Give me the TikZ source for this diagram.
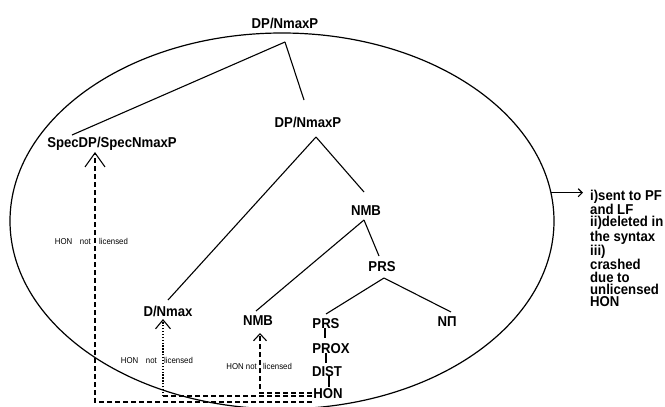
\documentclass[tikz,border=0pt]{standalone}
\usepackage{fontspec}
\setmainfont{Liberation Sans}[FakeStretch=0.92]
\usetikzlibrary{shapes.geometric,arrows.meta,calc}
\begin{document}
\begin{tikzpicture}[x=1pt,y=-1pt,
  lab/.style={font=\fontsize{14.3}{14.3}\selectfont\bfseries, inner sep=1pt, anchor=base},
  small/.style={font=\fontsize{8.5}{9}\selectfont, inner sep=0pt},
  tree/.style={line width=1.1pt},
  dsh/.style={line width=1.1pt, dash pattern=on 5pt off 3pt},
  dtt/.style={line width=1.1pt, dash pattern=on 1.3pt off 1.6pt},
  bigtip/.style={-{Straight Barb[length=14pt,width=20pt,line width=1.1pt]}},
  midtip/.style={-{Straight Barb[length=9pt,width=15pt,line width=1.1pt]}},
  smalltip/.style={-{Straight Barb[length=7pt,width=13pt,line width=1.1pt]}},
  notetip/.style={-{Straight Barb[length=4pt,width=8pt,line width=1.1pt]}}]
\useasboundingbox (0,0) rectangle (665,407);

\node[draw, ellipse, minimum width=544pt, minimum height=376pt, inner sep=0pt, outer sep=0pt, line width=1.2pt] (ell) at (282,221) {};

% tree labels
\node[lab] (top)  at (285,28)  {DP/NmaxP};
\node[lab] (dp2)  at (308,127) {DP/NmaxP};
\node[lab] (spec) at (112,147) {SpecDP/SpecNmaxP};
\node[lab] (nmb1) at (366,215) {NMB};
\node[lab] (prs1) at (382,271) {PRS};
\node[lab] (dn)   at (168,316) {D/Nmax};
\node[lab] (nmb2) at (258,325) {NMB};
\node[lab] (prs2) at (326,328) {PRS};
\node[lab] (npi)  at (447,326) {NΠ};
\node[lab] (prox) at (331,353) {PROX};
\node[lab] (dist) at (327,376) {DIST};
\node[lab] (hon)  at (328,398) {HON};

% notes
\node[font=\fontsize{14.3}{12.1}\selectfont\bfseries, align=left, anchor=north west, inner sep=0pt] (notes) at (590,190)
  {i)sent to PF\\and LF\\ii)deleted in\\the syntax\\iii)\\crashed\\due to\\unlicensed\\HON};

% small labels
\node[small, anchor=base east] (s1a) at (91,244)  {HON\hspace{0.9em}not};
\node[small, anchor=base west] (s1b) at (99,244)  {licensed};
\node[small, anchor=base east] (s2a) at (157,363) {HON\hspace{0.9em}not};
\node[small, anchor=base west] (s2b) at (164,363) {licensed};
\node[small, anchor=base east] (s3a) at (257,369) {HON not};
\node[small, anchor=base west] (s3b) at (263,369) {licensed};

% tree connectors
\draw[tree] ([yshift=-14pt]top.base) -- ([xshift=-40pt,yshift=12pt]spec.base);
\draw[tree] ([yshift=-14pt]top.base) -- ([xshift=-4pt,yshift=27pt]dp2.base);
\draw[tree] ([xshift=8pt,yshift=-10pt]dp2.base) -- ([yshift=16pt]dn.base);
\draw[tree] ([xshift=8pt,yshift=-10pt]dp2.base) -- ([xshift=-2pt,yshift=23pt]nmb1.base);
\draw[tree] ([xshift=-2pt,yshift=-5pt]nmb1.base) -- ([xshift=-2pt,yshift=14pt]nmb2.base);
\draw[tree] ([xshift=-2pt,yshift=-5pt]nmb1.base) -- ([xshift=-3pt,yshift=15pt]prs1.base);
\draw[tree] ([xshift=2pt,yshift=-7pt]prs1.base) -- ([yshift=14pt]prs2.base);
\draw[tree] ([xshift=2pt,yshift=-7pt]prs1.base) -- ([xshift=4pt,yshift=14pt]npi.base);
\draw[tree] ([xshift=-1pt]prs2.base) -- ([xshift=-6pt,yshift=15pt]prox.base);
\draw[tree] ([xshift=-5pt]prox.base) -- ([xshift=-1pt,yshift=13pt]dist.base);
\draw[tree] ([xshift=2pt]dist.base) -- ([xshift=1pt,yshift=11pt]hon.base);

% dashed licensing arrows
\draw[dsh, bigtip] ([xshift=-16pt,yshift=-4pt]hon.base) -| ([xshift=-17pt,yshift=-5pt]spec.base);
\path ([xshift=-16pt,yshift=2pt]hon.base) -| node[coordinate, pos=0.5] (c2) {} ([xshift=-5pt,yshift=-3pt]dn.base);
\draw[dsh] ([xshift=-16pt,yshift=2pt]hon.base) -- (c2);
\draw[dtt, midtip] (c2) -- ([xshift=-5pt,yshift=-3pt]dn.base);
\draw[dsh, smalltip] ([xshift=-16pt,yshift=5pt]hon.base) -| ([xshift=2pt,yshift=-8pt]nmb2.base);

% note arrow
\draw[line width=1.1pt, notetip] (ell.6) -- ($(notes.west |- ell.6)+(-7pt,0)$);
\end{tikzpicture}
\end{document}
